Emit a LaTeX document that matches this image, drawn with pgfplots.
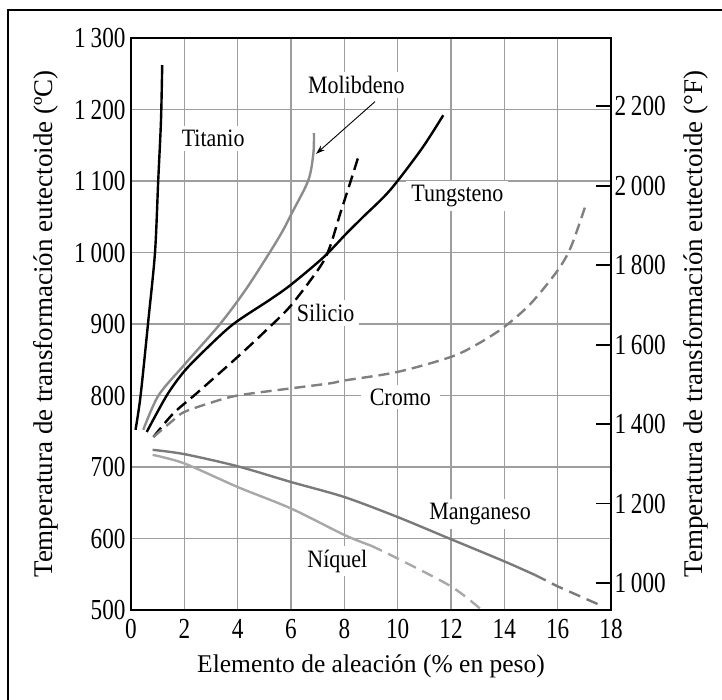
\documentclass[border=0pt]{standalone}
\usepackage{fontspec}
\setmainfont{Liberation Serif}
\newfontfamily\tickfam{Liberation Serif}[FakeStretch=0.8]
\newfontfamily\lblfam{Liberation Serif}[FakeStretch=0.88]
\usepackage{pgfplots}
\pgfplotsset{compat=1.18}
\usetikzlibrary{arrows.meta}

\definecolor{gridgray}{RGB}{158,158,158}
\definecolor{molgray}{RGB}{140,140,140}
\definecolor{crogray}{RGB}{128,128,128}
\definecolor{mangray}{RGB}{122,122,122}
\definecolor{nigray}{RGB}{168,168,168}

\newcommand{\lblfont}{\lblfam\fontsize{25bp}{29bp}\selectfont}
\newcommand{\tickfont}{\tickfam\fontsize{29bp}{33bp}\selectfont}
\newcommand{\xaxfont}{\fontsize{25.5bp}{30bp}\selectfont}
\newcommand{\yaxfont}{\fontsize{27bp}{31bp}\selectfont}
\tikzset{lbl/.style={font=\lblfont, fill=white, inner xsep=5bp, inner ysep=4bp}}

\begin{document}
\begin{tikzpicture}
\useasboundingbox (0,0) rectangle (722bp,700bp);
\draw[line width=1.5bp] (8bp,0bp) -- (8bp,690bp) -- (722bp,690bp);

\begin{axis}[
  at={(131bp,90bp)}, anchor=south west,
  width=480bp, height=572bp, scale only axis,
  xmin=0, xmax=18, ymin=500, ymax=1300,
  xtick={0,2,...,18}, ytick={500,600,...,1300},
  major tick length=0pt,
  grid=major, grid style={gridgray, line width=1.1bp},
  axis line style={line width=1.8bp},
  tick label style={font=\tickfont},
  /pgf/number format/assume math mode=true,
  /pgf/number format/1000 sep={\,},
  xticklabel style={yshift=-6bp},
  yticklabel style={xshift=-2bp},
  xlabel={Elemento de aleación (\% en peso)},
  xlabel style={at={(axis description cs:0.5,-0.099)}, anchor=center, font=\xaxfont},
  ylabel={Temperatura de transformación eutectoide (ºC)},
  ylabel style={at={(axis description cs:-0.177,0.5)}, anchor=center, font=\yaxfont},
]
% etiquetas (fondo blanco corta la cuadricula)
\node[lbl] at (axis cs:3.08,1160) {Titanio};
\node[lbl] at (axis cs:8.45,1234) {Molibdeno};
\node[lbl] at (axis cs:12.24,1079) {Tungsteno};
\node[lbl] at (axis cs:7.3,915) {Silicio};
\node[lbl, inner xsep=9bp] at (axis cs:10.1,798) {Cromo};
\node[lbl] at (axis cs:13.09,634) {Manganeso};
\node[lbl] at (axis cs:7.74,568.5) {Níquel};

% Titanio
\addplot[black, line width=2.4bp, smooth, tension=0.5] coordinates {
  (0.17,752) (0.36,800) (0.65,905) (0.9,1000) (1.02,1100) (1.125,1185) (1.17,1262)};
% Molibdeno
\addplot[molgray, line width=2.4bp, smooth, tension=0.5] coordinates {
  (0.46,752) (1.03,800) (2,843) (3.34,900) (4.3,948) (5.2,1000) (5.7,1031)
  (6.03,1055) (6.65,1101) (6.84,1139) (6.86,1167)};
% Tungsteno
\addplot[black, line width=2.4bp, smooth, tension=0.5] coordinates {
  (0.59,749) (1.34,800) (2,834) (2.84,866) (3.84,900) (5.21,934) (6,955)
  (7.21,993) (8.09,1027) (8.71,1050) (9.71,1087) (10.9,1145) (11.71,1192)};
% Silicio
\addplot[black, line width=2.4bp, smooth, tension=0.5, dash pattern=on 12bp off 6bp] coordinates {
  (0.84,742) (1.59,775) (2.46,803) (4,854) (5.09,892) (6,926) (7.09,980)
  (7.46,1008) (7.85,1055) (8.24,1100) (8.56,1138)};
% Cromo
\addplot[crogray, line width=2.4bp, smooth, tension=0.5, dash pattern=on 11bp off 6bp] coordinates {
  (0.84,742) (1.6,766) (2,777) (3,790) (4,800) (6,810) (7.46,817) (8,821)
  (10,833) (12,854) (13,872) (14,896) (15,929) (16,975) (16.5,1008) (17.03,1064)};
% Manganeso
\addplot[mangray, line width=2.4bp, smooth, tension=0.5] coordinates {
  (0.81,724) (2,718) (4,701) (6,679) (8,658) (10,630) (12,599) (14,568) (15.15,549)};
\addplot[mangray, line width=2.4bp, dash pattern=on 12bp off 7bp] coordinates {
  (15.15,549) (16,533) (17.7,505)};
% Niquel
\addplot[nigray, line width=2.4bp, smooth, tension=0.5] coordinates {
  (0.81,717) (2,705) (4,672) (6,642) (8,605) (9,590)};
\addplot[nigray, line width=2.4bp, smooth, tension=0.5, dash pattern=on 12bp off 7bp] coordinates {
  (9,590) (10,572) (12,533) (13.09,502)};

% flecha de Molibdeno
\draw[line width=0.9bp, -{Stealth[length=9bp, width=6bp]}] (axis cs:9.15,1211) -- (axis cs:6.94,1138);
\end{axis}

\begin{axis}[
  at={(131bp,90bp)}, anchor=south west,
  width=480bp, height=572bp, scale only axis,
  xmin=0, xmax=18, ymin=932, ymax=2372,
  axis x line=none, axis y line*=right,
  ytick={1000,1200,...,2200},
  tick align=inside, major tick length=15bp,
  major tick style={line width=1.8bp, black},
  axis line style={line width=1.8bp},
  tick label style={font=\tickfont},
  /pgf/number format/assume math mode=true,
  /pgf/number format/1000 sep={\,},
  ylabel={Temperatura de transformación eutectoide (°F)},
  ylabel style={at={(axis description cs:1.177,0.5)}, anchor=center, font=\yaxfont},
]
\end{axis}
\end{tikzpicture}
\end{document}
